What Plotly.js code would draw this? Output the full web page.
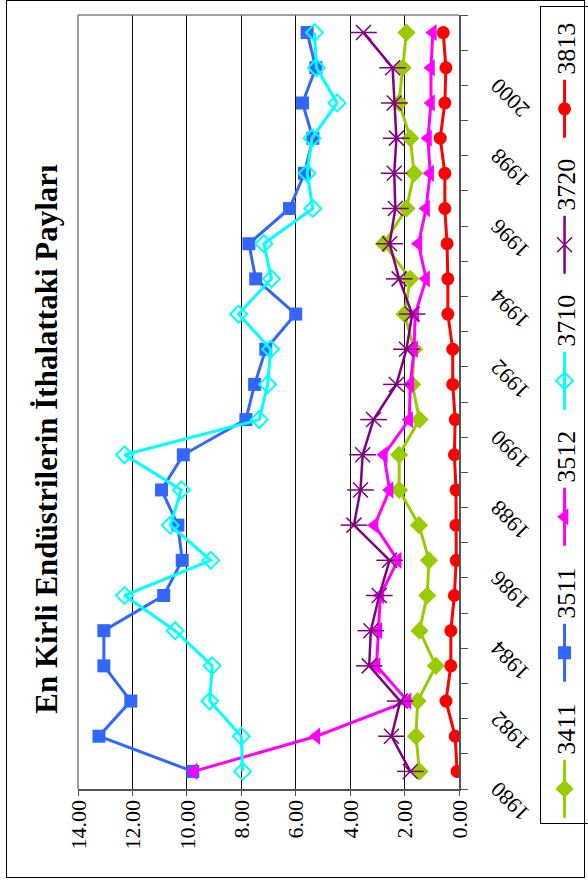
<!DOCTYPE html>
<html>
<head>
<meta charset="utf-8">
<script src="https://cdn.plot.ly/plotly-3.0.1.min.js"></script>
<style>
  html, body { margin: 0; padding: 0; background: #fff; overflow: hidden; }
  #wrap {
    position: absolute; left: 0; top: 0;
    width: 886px; height: 588px;
    transform-origin: 0 0;
    transform: translate(0px, 886px) rotate(-90deg);
    background: #fff;
  }
  #chart { position: absolute; left: 0; top: 0; width: 886px; height: 588px; }
  #frame {
    position: absolute; left: 8px; top: 6px; width: 878px; height: 579px;
    box-sizing: border-box; border: 1px solid #000; pointer-events: none;
  }
</style>
</head>
<body>
<div id="wrap"><div id="chart"></div><div id="frame"></div></div>
<script>
// ---- data ----
const years = [1980,1981,1982,1983,1984,1985,1986,1987,1988,1989,1990,1991,1992,1993,1994,1995,1996,1997,1998,1999,2000,2001];
const yearTickLabels = ['1980','1982','1984','1986','1988','1990','1992','1994','1996','1998','2000'];
const valueTicks = [0,2,4,6,8,10,12,14];
const valueTickLabels = ['0.00','2.00','4.00','6.00','8.00','10.00','12.00','14.00'];
const seriesNames = ['3411','3511','3512','3710','3720','3813'];

const s3411 = [1.45,1.58,1.52,0.85,1.45,1.17,1.10,1.47,2.20,2.20,1.45,1.72,1.65,2.00,1.79,2.76,1.93,1.65,1.79,2.20,2.07,1.93];
const s3511 = [9.78,13.23,12.06,13.05,13.05,10.85,10.17,10.33,10.93,10.13,7.83,7.51,7.10,6.00,7.47,7.72,6.23,5.68,5.37,5.75,5.26,5.58];
const s3512 = [9.75,5.24,1.89,3.03,2.96,2.89,2.25,3.10,2.55,2.76,1.83,1.79,1.65,1.61,1.21,1.49,1.21,1.06,1.14,1.03,1.03,0.96];
const s3710 = [7.95,8.00,9.16,9.07,10.43,12.29,9.12,10.61,10.20,12.29,7.34,7.03,6.92,8.10,6.89,7.17,5.37,5.58,5.40,4.48,5.24,5.31];
const s3720 = [1.79,2.48,2.16,3.30,3.24,2.93,2.55,3.86,3.62,3.54,3.14,2.30,1.93,1.72,2.20,2.55,2.34,2.38,2.30,2.38,2.44,3.51];
const s3813 = [0.07,0.14,0.48,0.30,0.30,0.17,0.10,0.11,0.11,0.17,0.14,0.23,0.23,0.41,0.41,0.44,0.52,0.52,0.69,0.52,0.48,0.58];

const titleText = 'En Kirli Endüstrilerin İthalattaki Payları';

// ---- traces ----
const serif = 'Liberation Serif, Times New Roman, serif';
const traces = [
  {name: seriesNames[0], x: years, y: s3411, mode: 'lines+markers',
   line: {color: '#99CC00', width: 3},
   marker: {symbol: 'diamond', size: 14, color: '#99CC00'}},
  {name: seriesNames[1], x: years, y: s3511, mode: 'lines+markers',
   line: {color: '#3366FF', width: 3},
   marker: {symbol: 'square', size: 13, color: '#3366FF'}},
  {name: seriesNames[2], x: years, y: s3512, mode: 'lines+markers',
   line: {color: '#FF00FF', width: 3},
   marker: {symbol: 'triangle-up', size: 15, color: '#FF00FF'}},
  {name: seriesNames[3], x: years, y: s3710, mode: 'lines+markers',
   line: {color: '#00FFFF', width: 3},
   marker: {symbol: 'diamond-open', size: 13, color: '#00FFFF', line: {width: 2, color: '#00FFFF'}}},
  {name: seriesNames[4], x: years, y: s3720, mode: 'lines+markers', legendgroup: 'g3720',
   line: {color: '#800080', width: 2.5},
   marker: {symbol: 'x-thin-open', size: 15, color: '#800080', line: {width: 1.5, color: '#800080'}}},
  {name: seriesNames[4], x: years, y: s3720, mode: 'markers', legendgroup: 'g3720', showlegend: false,
   marker: {symbol: 'line-ns-open', size: 19, color: '#800080', line: {width: 1.5, color: '#800080'}}},
  {name: seriesNames[5], x: years, y: s3813, mode: 'lines+markers',
   line: {color: '#FF0000', width: 3},
   marker: {symbol: 'circle', size: 13, color: '#FF0000'}}
];

const labelShift = -0.48; // rotated labels sit slightly left of their category

const layout = {
  width: 886, height: 588,
  margin: {l: 97, r: 15, t: 78, b: 129, pad: 0, autoexpand: false},
  paper_bgcolor: 'rgba(0,0,0,0)',
  plot_bgcolor: '#fff',
  showlegend: true,
  title: {
    text: '<b>' + titleText + '</b>',
    font: {family: serif, size: 31, color: '#000'},
    xref: 'container', x: 0.5045, xanchor: 'center',
    yref: 'container', y: 0.922, yanchor: 'middle'
  },
  xaxis: {
    type: 'linear',
    range: [1979.5, 2001.5],
    tickvals: yearTickLabels.map(v => Number(v) + labelShift),
    ticktext: yearTickLabels,
    tickangle: -45,
    ticks: '',
    showgrid: false,
    zeroline: false,
    showline: true, linecolor: '#555', linewidth: 1.5,
    tickfont: {family: serif, size: 22, color: '#000'},
    ticklabelstandoff: 16,
    minor: {ticks: 'outside', ticklen: 7, tickcolor: '#555', tickwidth: 1, tick0: 1979.5, dtick: 1, showgrid: false}
  },
  yaxis: {
    range: [0, 14],
    tickvals: valueTicks,
    ticktext: valueTickLabels,
    ticks: 'outside', ticklen: 5, tickcolor: '#555',
    showgrid: true, gridcolor: '#111', gridwidth: 1,
    zeroline: false,
    showline: true, linecolor: '#555', linewidth: 1.5,
    tickfont: {family: serif, size: 22, color: '#000'},
    ticklabelstandoff: 0
  },
  legend: {
    orientation: 'h',
    x: -0.045, xanchor: 'left',
    y: -0.213, yanchor: 'top',
    bgcolor: '#fff', bordercolor: '#000', borderwidth: 1,
    font: {family: serif, size: 26, color: '#000'},
    itemwidth: 58,
    entrywidth: 63, entrywidthmode: 'pixels',
    traceorder: 'normal'
  },
  shapes: [
    {type: 'line', xref: 'paper', yref: 'paper', x0: 0, x1: 1, y0: 1, y1: 1, line: {color: '#808080', width: 1.5}},
    {type: 'line', xref: 'paper', yref: 'paper', x0: 1, x1: 1, y0: 0, y1: 1, line: {color: '#808080', width: 1.5}}
  ]
};

Plotly.newPlot('chart', traces, layout, {staticPlot: true, displayModeBar: false});
</script>
</body>
</html>
